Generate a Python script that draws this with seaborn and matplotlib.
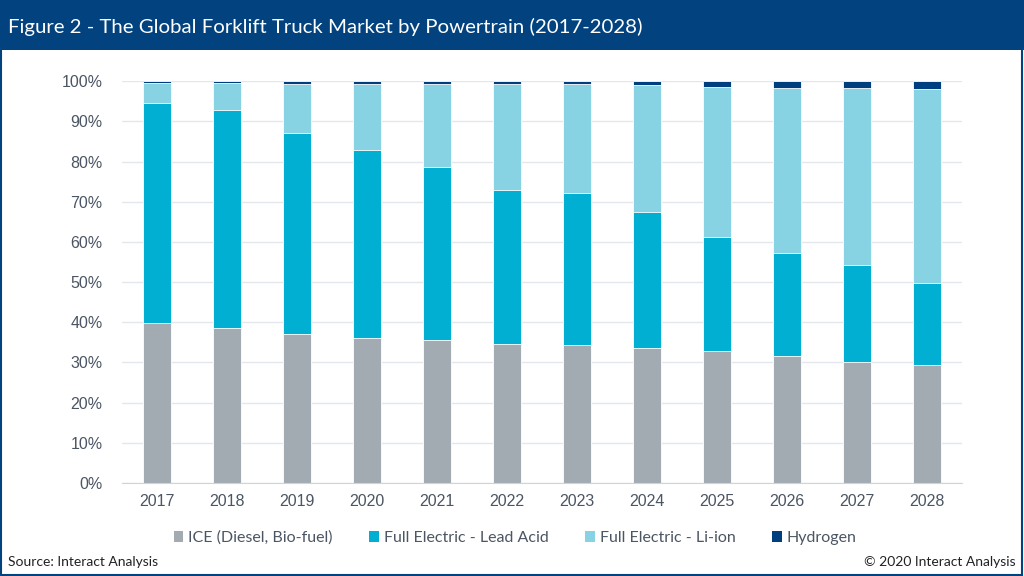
# Global forklift truck market by powertrain, stacked 100% bars
import numpy as np
import pandas as pd
import matplotlib
matplotlib.use('Agg')
import matplotlib.pyplot as plt
from matplotlib.patches import Patch, Rectangle
from matplotlib.ticker import PercentFormatter
import seaborn as sns

years = ['2017', '2018', '2019', '2020', '2021', '2022',
         '2023', '2024', '2025', '2026', '2027', '2028']
series = ['ICE (Diesel, Bio-fuel)', 'Full Electric - Lead Acid',
          'Full Electric - Li-ion', 'Hydrogen']

# shares in %
ice = [39.8, 38.6, 37.1, 36.1, 35.6, 34.6, 34.3, 33.6, 32.8, 31.6, 30.1, 29.4]
lead_acid = [54.7, 54.2, 50.0, 46.7, 43.0, 38.3, 37.8, 33.8, 28.4, 25.6, 24.1, 20.4]
li_ion = [5.1, 6.8, 12.3, 16.6, 20.7, 26.4, 27.1, 31.6, 37.4, 41.2, 44.1, 48.2]
hydrogen = [0.4, 0.4, 0.6, 0.6, 0.7, 0.7, 0.8, 1.0, 1.4, 1.6, 1.7, 2.0]

colors = ['#A2ABB1', '#00AFD2', '#88D3E3', '#003F7F']
navy = '#01427F'
text_col = '#4B5563'

df = pd.DataFrame({'year': years, 'ice': ice, 'lead': lead_acid,
                   'li': li_ion, 'h2': hydrogen})
# cumulative tops so layered bars look stacked
df['top_ice'] = df['ice']
df['top_lead'] = df['top_ice'] + df['lead']
df['top_li'] = df['top_lead'] + df['li']
df['top_h2'] = df['top_li'] + df['h2']

sns.set_style('white')
plt.rcParams['font.family'] = ['Liberation Sans', 'DejaVu Sans']
narrow = ['Lato', 'DejaVu Sans']

fig = plt.figure(figsize=(10.24, 5.76), dpi=100)
ax = fig.add_axes([0.119, 0.1615, 0.82, 0.6975])

for col, c in zip(['top_h2', 'top_li', 'top_lead', 'top_ice'], colors[::-1]):
    sns.barplot(data=df, x='year', y=col, color=c, width=0.4,
                edgecolor='white', linewidth=0.6, ax=ax, saturation=1)

ax.set_ylim(0, 100)
ax.set_xlim(-0.5, len(years) - 0.5)
ax.set_yticks(np.arange(0, 101, 10))
ax.yaxis.set_major_formatter(PercentFormatter(decimals=0))
ax.yaxis.grid(True, color='#E3E7EC', linewidth=1)
ax.set_axisbelow(True)
ax.set_xlabel('')
ax.set_ylabel('')
for s in ['top', 'right', 'left']:
    ax.spines[s].set_visible(False)
ax.spines['bottom'].set_color('#D0D4D8')
ax.tick_params(axis='both', labelsize=11.5, colors=text_col, length=0, pad=8)
ax.tick_params(axis='y', pad=14)
ax.set_xticks(np.arange(-0.5, len(years), 1), minor=True)
ax.tick_params(axis='x', which='minor', length=5, color='#D0D4D8')

handles = [Patch(facecolor=c, edgecolor='none') for c in colors]
fig.legend(handles, series, loc='center', bbox_to_anchor=(0.503, 0.066),
           ncol=4, frameon=False, handlelength=0.6,
           handleheight=0.7, handletextpad=0.3, columnspacing=2.3,
           labelcolor=text_col, prop={'family': narrow, 'size': 11.5})

# title band and outer frame
fig.patches.append(Rectangle((0, 0.913), 1, 0.087, transform=fig.transFigure,
                             facecolor=navy, edgecolor='none', zorder=0))
fig.patches.append(Rectangle((0.001, 0.002), 0.997, 0.996, transform=fig.transFigure,
                             facecolor='none', edgecolor=navy, linewidth=1.5, zorder=5))
fig.text(0.008, 0.953, 'Figure 2 - The Global Forklift Truck Market by Powertrain (2017-2028)',
         color='white', fontsize=14.7, va='center', ha='left', family=narrow)
fig.text(0.008, 0.024, 'Source: Interact Analysis', fontsize=10,
         color='#222222', va='center', ha='left', family=narrow)
fig.text(0.992, 0.024, '\u00a9 2020 Interact Analysis', fontsize=10,
         color='#222222', va='center', ha='right', family=narrow)

fig.savefig('out.png', dpi=100)
